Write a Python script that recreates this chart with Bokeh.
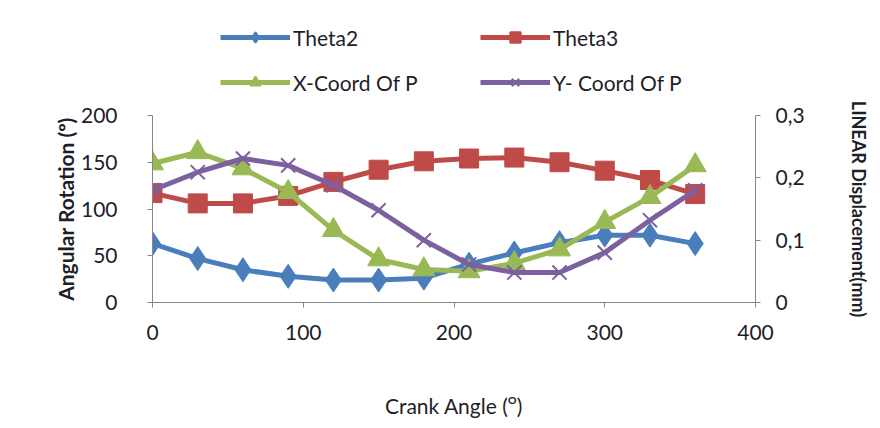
from bokeh.plotting import figure
from bokeh.layouts import column
from bokeh.models import (Range1d, LinearAxis, Legend, LegendItem,
                          CustomJSTickFormatter, FixedTicker)
from bokeh.embed import file_html
from bokeh.resources import INLINE

# ---- data ----
crank = [0, 30, 60, 90, 120, 150, 180, 210, 240, 270, 300, 330, 360]
theta2 = [63, 47, 35, 28, 24, 24, 26, 41, 53, 64, 72, 72, 63]
theta3 = [117, 106, 106, 114, 129, 142, 151, 154, 155, 150, 141, 131, 116]
xcoord = [0.223, 0.241, 0.215, 0.177, 0.116, 0.069, 0.053, 0.050, 0.063, 0.085, 0.129, 0.169, 0.220]
ycoord = [0.180, 0.209, 0.231, 0.220, 0.188, 0.148, 0.100, 0.061, 0.048, 0.048, 0.080, 0.132, 0.180]
series_names = ["Theta2", "Theta3", "X-Coord Of P", "Y- Coord Of P"]
x_ticks = [0, 100, 200, 300, 400]
left_ticks = [0, 50, 100, 150, 200]
right_ticks = [0, 0.1, 0.2, 0.3]

FONT = "Lato"
TXT = "#1e1e28"
AX = "#868686"
BLUE, RED, GREEN, PURPLE = "#4A7EBB", "#BE4B48", "#98B954", "#7D60A0"
LW = 5
W = 872

# ---------------- main chart ----------------
p = figure(width=W, height=322, output_backend="svg", toolbar_location=None,
           x_range=Range1d(0, 400), y_range=Range1d(0, 200),
           min_border_left=152, min_border_right=112,
           min_border_top=17, min_border_bottom=117)
p.extra_y_ranges = {"lin": Range1d(0, 0.3)}
p.xgrid.visible = False
p.ygrid.visible = False
p.outline_line_color = None
p.background_fill_color = "white"
p.border_fill_color = "white"

def style_axis(ax):
    ax.axis_line_color = AX
    ax.major_tick_line_color = AX
    ax.minor_tick_line_color = None
    ax.major_tick_in = 0
    ax.major_tick_out = 5
    ax.major_label_text_font = FONT
    ax.major_label_text_font_size = "21px"
    ax.major_label_text_color = TXT
    ax.axis_label_text_font = FONT
    ax.axis_label_text_font_size = "21px"
    ax.axis_label_text_color = TXT

xax = p.xaxis[0]
yax = p.yaxis[0]
xax.ticker = FixedTicker(ticks=x_ticks)
yax.ticker = FixedTicker(ticks=left_ticks)
style_axis(xax)
style_axis(yax)
xax.major_label_standoff = 17
xax.axis_label = "Crank Angle (ᴼ)"
xax.axis_label_text_font_style = "normal"
xax.axis_label_standoff = 50
yax.major_label_standoff = 30
yax.axis_label = "Angular Rotation (º)"
yax.axis_label_text_font_style = "bold"
yax.axis_label_standoff = 0

raxis = LinearAxis(y_range_name="lin", ticker=FixedTicker(ticks=right_ticks))
raxis.formatter = CustomJSTickFormatter(
    code="return tick == 0 ? '0' : tick.toFixed(1).replace('.', ',');")
style_axis(raxis)
raxis.major_label_standoff = 15
raxis.axis_label = "LINEAR Displacement(mm)"
raxis.axis_label_text_font_style = "bold"
raxis.axis_label_text_font_size = "18px"
raxis.axis_label_standoff = 40
p.add_layout(raxis, "right")

p.line(crank, theta2, line_color=BLUE, line_width=LW)
p.scatter(crank, theta2, marker="diamond", size=24, fill_color=BLUE, line_color=BLUE)
p.line(crank, theta3, line_color=RED, line_width=LW)
p.scatter(crank, theta3, marker="square", size=19, fill_color=RED, line_color=RED)
p.line(crank, xcoord, line_color=GREEN, line_width=LW, y_range_name="lin")
p.scatter(crank, xcoord, marker="triangle", size=22, fill_color=GREEN,
          line_color=GREEN, y_range_name="lin")
p.line(crank, ycoord, line_color=PURPLE, line_width=LW, y_range_name="lin")
p.scatter(crank, ycoord, marker="x", size=20, line_color=PURPLE, line_width=2,
          y_range_name="lin")

# ---------------- legend strip above ----------------
lg = figure(width=W, height=98, output_backend="svg", toolbar_location=None,
            x_range=Range1d(0, 1), y_range=Range1d(0, 1),
            x_axis_location=None, y_axis_location=None,
            min_border=0, min_border_left=0, min_border_right=0,
            min_border_top=0, min_border_bottom=0)
lg.xgrid.visible = False
lg.ygrid.visible = False
lg.outline_line_color = None
lg.border_fill_color = "white"

styles = [(BLUE, "diamond"), (RED, "square"), (GREEN, "triangle"), (PURPLE, "x")]
nan = float("nan")
items = {}
for name, (col, mk) in zip(series_names, styles):
    r1 = lg.line([nan], [nan], line_color=col, line_width=LW)
    r2 = lg.scatter([nan], [nan], marker=mk, size=12, fill_color=col,
                    line_color=col, line_width=2)
    items[name] = LegendItem(label=name, renderers=[r1, r2])

# column-major fill: first column Theta2 / X-Coord, second Theta3 / Y-Coord
order = [series_names[0], series_names[2], series_names[1], series_names[3]]
legend = Legend(items=[items[n] for n in order], ncols=2, location=(68, 3),
                glyph_width=70, glyph_height=26, label_standoff=3,
                label_width=168, label_height=26, spacing=19,
                padding=0, margin=0,
                border_line_color=None, background_fill_alpha=0,
                label_text_font=FONT, label_text_font_size="21px",
                label_text_color=TXT)
lg.add_layout(legend, "center")

layout = column(lg, p, spacing=0)
open("out.html", "w").write(file_html(layout, INLINE))
